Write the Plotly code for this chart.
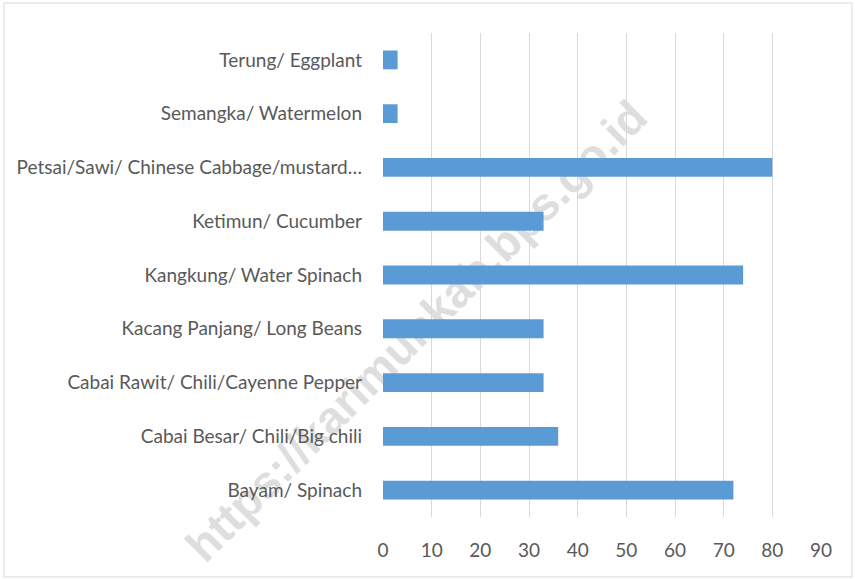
import plotly.graph_objects as go

categories = [
    "Bayam/ Spinach",
    "Cabai Besar/ Chili/Big chili",
    "Cabai Rawit/ Chili/Cayenne Pepper",
    "Kacang Panjang/ Long Beans",
    "Kangkung/ Water Spinach",
    "Ketimun/ Cucumber",
    "Petsai/Sawi/ Chinese Cabbage/mustard…",
    "Semangka/ Watermelon",
    "Terung/ Eggplant",
]
values = [72, 36, 33, 33, 74, 33, 80, 3, 3]
x_ticks = [0, 10, 20, 30, 40, 50, 60, 70, 80, 90]

W, H = 855, 579
L, R, T, B = 382.5, 34, 33, 62
pw, ph = W - L - R, H - T - B

def px(x):
    return (x - L) / pw

def py(y):
    return (H - B - y) / ph

FONT = "Lato"
FS = 19

fig = go.Figure(go.Bar(
    x=values, y=categories, orientation="h",
    marker=dict(color="#5b9bd5", line=dict(color="#5b9bd5", width=0)),
    hoverinfo="x+y",
))

fig.update_layout(
    width=W, height=H,
    margin=dict(l=L, r=R, t=T, b=B, pad=0),
    paper_bgcolor="white", plot_bgcolor="rgba(0,0,0,0)",
    bargap=0.65,
    showlegend=False,
    font=dict(family=FONT, color="#595959", size=FS),
    xaxis=dict(
        range=[0, 90], tickvals=x_ticks, showgrid=True, gridcolor="#d9d9d9", gridwidth=1,
        zeroline=False, showline=False, ticks="", ticklabelstandoff=20,
        tickfont=dict(family=FONT, size=FS, color="#595959"),
    ),
    yaxis=dict(
        categoryorder="array", categoryarray=categories, showgrid=False, zeroline=False,
        showline=False, ticks="", ticklabelstandoff=20,
        tickfont=dict(family=FONT, size=FS, color="#595959"),
    ),
    shapes=[
        dict(type="rect", xref="paper", yref="paper",
             x0=px(3), x1=px(852), y0=py(577), y1=py(3),
             line=dict(color="#d9d9d9", width=1), layer="below"),
        dict(type="rect", xref="paper", yref="paper",
             x0=px(313), x1=px(513), y0=py(428), y1=py(228),
             line=dict(width=0), fillcolor="rgba(0,0,0,0)", layer="below",
             label=dict(text="<b>https://karimunkab.bps.go.id</b>", textangle=-45,
                        textposition="middle center",
                        font=dict(family="Liberation Sans", size=46, color="#dedede"))),
    ],
)

fig.write_html("out.html", config={"displayModeBar": False},
               post_script="document.body.style.margin='0';")
